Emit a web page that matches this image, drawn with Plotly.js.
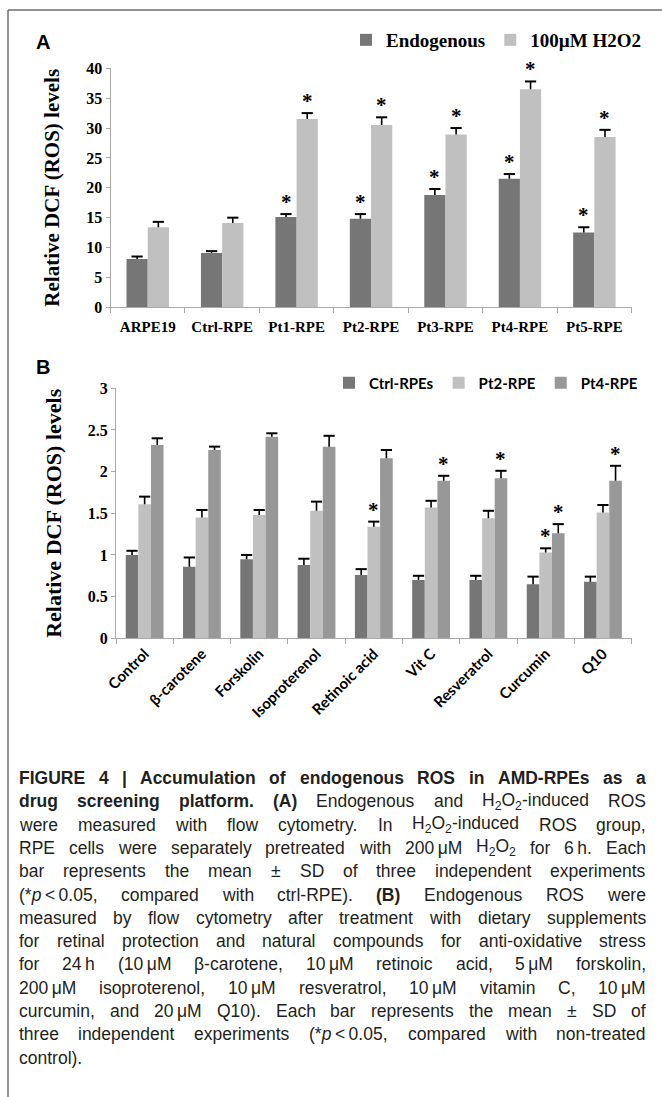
<!DOCTYPE html>
<html><head><meta charset="utf-8">
<script src="https://cdn.plot.ly/plotly-3.0.1.min.js"></script>
<style>html,body{margin:0;padding:0;background:#fff;overflow:hidden}</style>
</head><body><div id="chart" style="width:662px;height:1097px"></div>
<script>
// ---------- Panel A data ----------
const cellLines = ['ARPE19','Ctrl-RPE','Pt1-RPE','Pt2-RPE','Pt3-RPE','Pt4-RPE','Pt5-RPE'];
const endogenous   = [8.1, 9.1, 15.1, 14.8, 18.8, 21.5, 12.5];
const endogenousSD = [0.4, 0.3, 0.5, 0.8, 1.0, 0.8, 0.9];
const h2o2         = [13.4, 14.1, 31.5, 30.5, 28.9, 36.5, 28.5];
const h2o2SD       = [0.9, 0.9, 1.0, 1.3, 1.1, 1.3, 1.2];
const sigEndogenous = [false, false, true, true, true, true, true];
const sigH2o2       = [false, false, true, true, true, true, true];

// ---------- Panel B data ----------
const compounds = ['Control','β-carotene','Forskolin','Isoproterenol','Retinoic acid','Vit C','Resveratrol','Curcumin','Q10'];
const ctrlRPEs   = [1.00, 0.86, 0.95, 0.88, 0.76, 0.70, 0.70, 0.65, 0.68];
const ctrlRPEsSD = [0.05, 0.11, 0.05, 0.075, 0.07, 0.05, 0.05, 0.09, 0.06];
const pt2RPE     = [1.61, 1.45, 1.48, 1.53, 1.34, 1.57, 1.44, 1.03, 1.51];
const pt2RPESD   = [0.09, 0.09, 0.06, 0.11, 0.06, 0.08, 0.09, 0.05, 0.09];
const pt4RPE     = [2.32, 2.26, 2.42, 2.30, 2.16, 1.89, 1.92, 1.26, 1.89];
const pt4RPESD   = [0.08, 0.04, 0.04, 0.13, 0.10, 0.06, 0.09, 0.11, 0.18];
const sigCtrl = [false,false,false,false,false,false,false,false,false];
const sigPt2  = [false,false,false,false,true,false,false,true,false];
const sigPt4  = [false,false,false,false,false,true,true,true,true];

// ---------- Caption ----------
const captionLines = [
  '<b>FIGURE 4 | Accumulation of endogenous ROS in AMD-RPEs as a</b>',
  '<b>drug screening platform. (A)</b> Endogenous and H<sub>2</sub>O<sub>2</sub>-induced ROS',
  'were measured with flow cytometry. In H<sub>2</sub>O<sub>2</sub>-induced ROS group,',
  'RPE cells were separately pretreated with 200\u2009μM H<sub>2</sub>O<sub>2</sub> for 6\u2009h. Each',
  'bar represents the mean ± SD of three independent experiments',
  '(*<i>p</i>\u2009&lt;\u20090.05, compared with ctrl-RPE). <b>(B)</b> Endogenous ROS were',
  'measured by flow cytometry after treatment with dietary supplements',
  'for retinal protection and natural compounds for anti-oxidative stress',
  'for 24\u2009h (10\u2009μM β-carotene, 10\u2009μM retinoic acid, 5\u2009μM forskolin,',
  '200\u2009μM isoproterenol, 10\u2009μM resveratrol, 10\u2009μM vitamin C, 10\u2009μM',
  'curcumin, and 20\u2009μM Q10). Each bar represents the mean ± SD of',
  'three independent experiments (*<i>p</i>\u2009&lt;\u20090.05, compared with non-treated',
  'control).'
];

// ---------- styling ----------
const W = 662, H = 1097;
const px = v => v / W;
const py = v => 1 - v / H;
const SERIF = 'Liberation Serif, Times New Roman, serif';
const SANS = 'Liberation Sans, Arial, sans-serif';
const CAL = 'Lato, Open Sans, sans-serif';
const C_DARK = '#767676', C_LIGHT = '#c0c0c0', C_MID = '#989898';
const AXC = '#a9a9a9';
const ERR_W = 1.6;

const wA = 0.285, offA = [-0.285, 0];
const wB = 0.22, offB = [-0.33, -0.11, 0.11];

function barTrace(name, x, y, sd, color, xa, ya, leg, width, offset) {
  return {
    type: 'bar', name: name, x: x, y: y, xaxis: xa, yaxis: ya, legend: leg,
    width: width, offset: offset,
    marker: {color: color, line: {width: 0}},
    error_y: {type: 'data', symmetric: false, array: sd, arrayminus: sd.map(() => 0),
              color: '#000', thickness: ERR_W, width: 0},
    hoverinfo: 'skip'
  };
}
// cap of each error bar (top only), drawn on a hidden linear overlay axis aligned with the categories
function capTrace(vals, sds, off, w, xa, ya) {
  return {
    type: 'scatter', mode: 'markers', xaxis: xa, yaxis: ya, showlegend: false, hoverinfo: 'skip',
    x: vals.map((v, i) => i + off + w / 2), y: vals.map((v, i) => v + sds[i]),
    marker: {symbol: 'line-ew', size: 8, color: '#000', line: {color: '#000', width: ERR_W + 0.4}},
    cliponaxis: false
  };
}

const data = [
  barTrace('Endogenous', cellLines, endogenous, endogenousSD, C_DARK, 'x', 'y', 'legend', wA, offA[0]),
  barTrace('100µM H2O2', cellLines, h2o2, h2o2SD, C_LIGHT, 'x', 'y', 'legend', wA, offA[1]),
  barTrace('Ctrl-RPEs', compounds, ctrlRPEs, ctrlRPEsSD, C_DARK, 'x2', 'y2', 'legend2', wB, offB[0]),
  barTrace('Pt2-RPE', compounds, pt2RPE, pt2RPESD, C_LIGHT, 'x2', 'y2', 'legend2', wB, offB[1]),
  barTrace('Pt4-RPE', compounds, pt4RPE, pt4RPESD, C_MID, 'x2', 'y2', 'legend2', wB, offB[2]),
  capTrace(endogenous, endogenousSD, offA[0], wA, 'x3', 'y'),
  capTrace(h2o2, h2o2SD, offA[1], wA, 'x3', 'y'),
  capTrace(ctrlRPEs, ctrlRPEsSD, offB[0], wB, 'x4', 'y2'),
  capTrace(pt2RPE, pt2RPESD, offB[1], wB, 'x4', 'y2'),
  capTrace(pt4RPE, pt4RPESD, offB[2], wB, 'x4', 'y2')
];

const annotations = [];
function addStars(vals, sds, sig, off, w, xr, yr) {
  vals.forEach((v, i) => {
    if (!sig[i]) return;
    annotations.push({
      x: i + off + w / 2, y: v + sds[i], xref: xr, yref: yr, text: '*', showarrow: false,
      yanchor: 'bottom', xanchor: 'center', yshift: -2,
      font: {family: SERIF, size: 21, color: '#000', weight: 'bold'}
    });
  });
}
addStars(endogenous, endogenousSD, sigEndogenous, offA[0], wA, 'x', 'y');
addStars(h2o2, h2o2SD, sigH2o2, offA[1], wA, 'x', 'y');
addStars(ctrlRPEs, ctrlRPEsSD, sigCtrl, offB[0], wB, 'x2', 'y2');
addStars(pt2RPE, pt2RPESD, sigPt2, offB[1], wB, 'x2', 'y2');
addStars(pt4RPE, pt4RPESD, sigPt4, offB[2], wB, 'x2', 'y2');

// panel letters
[['A', 43, 42], ['B', 43, 367]].forEach(([t, x, y]) => annotations.push({
  x: px(x), y: py(y), xref: 'paper', yref: 'paper', text: t, showarrow: false,
  xanchor: 'center', yanchor: 'middle', font: {family: SANS, size: 20, color: '#000', weight: 'bold'}
}));

// caption words
function splitWords(line) {
  const open = [];
  return line.split(' ').map(w => {
    const prefix = open.map(t => '<' + t + '>').join('');
    const re = /<(\/?)(b|i|sub|sup)>/g; let m;
    while ((m = re.exec(w))) {
      if (m[1]) { const k = open.lastIndexOf(m[2]); if (k >= 0) open.splice(k, 1); }
      else open.push(m[2]);
    }
    const suffix = open.slice().reverse().map(t => '</' + t + '>').join('');
    return prefix + w + suffix;
  });
}
const CAP_LEFT = 17, CAP_RIGHT = 644, CAP_TOP = 778, CAP_STEP = 23.3, CAP_SIZE = 17.5;
const captionWords = [];
captionLines.forEach((line, li) => {
  const words = splitWords(line);
  words.forEach((w, wi) => {
    captionWords.push({line: li, idx: annotations.length, n: words.length});
    annotations.push({
      x: px(CAP_LEFT + wi * 40), y: py(CAP_TOP + li * CAP_STEP), xref: 'paper', yref: 'paper',
      text: w, showarrow: false, xanchor: 'left', yanchor: 'middle',
      font: {family: SANS, size: CAP_SIZE, color: '#231f20'}
    });
  });
});

const tickFontSerif = {family: SERIF, size: 16, color: '#000', weight: 'bold'};
const domXA = [px(110.5), px(631.6)], domXB = [px(116), px(631.6)];
const layout = {
  width: W, height: H, margin: {l: 0, r: 0, t: 0, b: 0},
  paper_bgcolor: '#fff', plot_bgcolor: 'rgba(0,0,0,0)',
  barmode: 'group', hovermode: false,
  xaxis: {domain: domXA, anchor: 'y', type: 'category', showline: true, linecolor: AXC,
          linewidth: 1, ticks: 'outside', tickson: 'boundaries', ticklen: 5, tickcolor: AXC,
          ticklabelstandoff: 6, range: [-0.5, cellLines.length - 0.5],
          tickfont: {family: SERIF, size: 15, color: '#000', weight: 'bold'},
          showgrid: false, zeroline: false, fixedrange: true},
  xaxis3: {overlaying: 'x', anchor: 'y', type: 'linear', range: [-0.5, cellLines.length - 0.5],
           visible: false, showgrid: false, zeroline: false, fixedrange: true},
  yaxis: {domain: [py(307.3), py(68.3)], anchor: 'x', range: [0, 40], dtick: 5, showline: true,
          linecolor: AXC, ticks: 'outside', ticklen: 4, tickcolor: AXC, tickfont: tickFontSerif,
          showgrid: false, zeroline: false, fixedrange: true,
          title: {text: 'Relative DCF (ROS) levels', standoff: 20,
                  font: {family: SERIF, size: 21, color: '#000', weight: 'bold'}}},
  xaxis2: {domain: domXB, anchor: 'y2', type: 'category', showline: true, linecolor: AXC,
           ticks: 'outside', tickson: 'boundaries', ticklen: 5, tickcolor: AXC, tickangle: -45,
           range: [-0.5, compounds.length - 0.5],
           tickfont: {family: CAL, size: 15, color: '#000', weight: 'bold'},
           showgrid: false, zeroline: false, fixedrange: true},
  xaxis4: {overlaying: 'x2', anchor: 'y2', type: 'linear', range: [-0.5, compounds.length - 0.5],
           visible: false, showgrid: false, zeroline: false, fixedrange: true},
  yaxis2: {domain: [py(638.3), py(388.3)], anchor: 'x2', range: [0, 3], dtick: 0.5, showline: true,
           linecolor: AXC, ticks: 'outside', ticklen: 4, tickcolor: AXC, tickfont: tickFontSerif,
           showgrid: false, zeroline: false, fixedrange: true,
           title: {text: 'Relative DCF (ROS) levels', standoff: 20,
                   font: {family: SERIF, size: 22, color: '#000', weight: 'bold'}}},
  showlegend: true,
  legend: {orientation: 'h', x: px(346), xanchor: 'left', y: py(40), yanchor: 'middle',
           bgcolor: 'rgba(0,0,0,0)', font: {family: SERIF, size: 19, color: '#000', weight: 'bold'},
           traceorder: 'normal'},
  legend2: {orientation: 'h', x: px(329), xanchor: 'left', y: py(383), yanchor: 'middle',
            bgcolor: 'rgba(0,0,0,0)', font: {family: CAL, size: 15, color: '#000', weight: 'bold'},
            traceorder: 'normal'},
  shapes: [
    {type: 'line', xref: 'paper', yref: 'paper', x0: px(8), x1: 1, y0: py(10), y1: py(10),
     line: {color: '#6e6e6e', width: 1.5}},
    {type: 'line', xref: 'paper', yref: 'paper', x0: px(8), x1: px(8), y0: py(10), y1: 0,
     line: {color: '#6e6e6e', width: 1.5}}
  ],
  annotations: annotations
};

Plotly.newPlot('chart', data, layout, {displayModeBar: false, responsive: false}).then(gd => {
  // justify caption lines using measured word widths
  const widths = {};
  captionWords.forEach(cw => {
    const el = gd.querySelector('.annotation[data-index="' + cw.idx + '"] .annotation-text');
    widths[cw.idx] = el ? el.getBBox().width : 0;
  });
  const update = {};
  const spaceW = CAP_SIZE * 0.278;
  captionLines.forEach((line, li) => {
    const ws = captionWords.filter(c => c.line === li);
    const total = ws.reduce((s, c) => s + widths[c.idx], 0);
    let gap = ws.length > 1 ? (CAP_RIGHT - CAP_LEFT - total) / (ws.length - 1) : 0;
    if (li === captionLines.length - 1 || gap > 30) gap = spaceW;
    if (gap < 2) gap = 2;
    let x = CAP_LEFT;
    ws.forEach(c => {
      update['annotations[' + c.idx + '].x'] = px(x);
      x += widths[c.idx] + gap;
    });
  });
  return Plotly.relayout(gd, update);
});
</script>
</body></html>
